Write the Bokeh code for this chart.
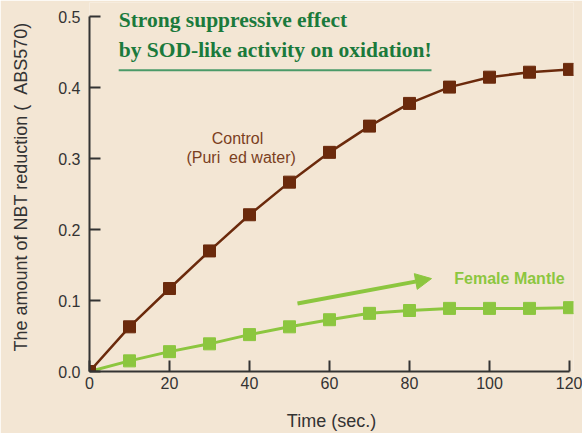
from bokeh.plotting import figure
from bokeh.models import Label, Arrow, NormalHead, FixedTicker, Range1d, CustomJSTickFormatter
from bokeh.embed import file_html
from bokeh.resources import INLINE

time_sec = [0, 10, 20, 30, 40, 50, 60, 70, 80, 90, 100, 110, 120]
control = [0.0, 0.063, 0.117, 0.170, 0.221, 0.267, 0.309, 0.346, 0.378, 0.401, 0.415, 0.422, 0.426]
female_mantle = [0.0, 0.015, 0.028, 0.039, 0.052, 0.063, 0.073, 0.082, 0.086, 0.089, 0.089, 0.089, 0.090]
x_ticks = [0, 20, 40, 60, 80, 100, 120]
y_ticks = [0.0, 0.1, 0.2, 0.3, 0.4, 0.5]

BG = "#f3e6d4"
BROWN = "#6b2a0c"
GREEN = "#8cc63f"
TITLE_GREEN = "#1b7a3c"
AXIS = "#333333"

p = figure(width=582, height=433,
           min_border_left=89, min_border_right=9, min_border_top=2, min_border_bottom=61,
           output_backend="svg", toolbar_location=None,
           x_range=Range1d(0, 121), y_range=Range1d(0, 0.5203))
p.background_fill_color = BG
p.border_fill_color = BG
p.outline_line_color = None
p.grid.visible = False

for ax in (p.xaxis[0], p.yaxis[0]):
    ax.axis_line_color = AXIS
    ax.axis_line_width = 2
    ax.major_tick_line_color = AXIS
    ax.major_tick_line_width = 2
    ax.major_tick_in = 11
    ax.major_tick_out = 0
    ax.minor_tick_line_color = None
    ax.major_label_text_font = "Liberation Sans"
    ax.major_label_text_font_size = "16px"
    ax.major_label_text_color = AXIS
    ax.axis_label_text_font = "Liberation Sans"
    ax.axis_label_text_font_size = "18px"
    ax.axis_label_text_font_style = "normal"
    ax.axis_label_text_color = AXIS

p.xaxis[0].ticker = FixedTicker(ticks=x_ticks)
p.yaxis[0].ticker = FixedTicker(ticks=y_ticks)
p.xaxis[0].bounds = (0, 120)
p.yaxis[0].bounds = (0, 0.5)
p.yaxis[0].formatter = CustomJSTickFormatter(code="return tick.toFixed(1);")
p.xaxis[0].major_label_standoff = 5
p.yaxis[0].major_label_standoff = 9
p.xaxis[0].axis_label = "Time (sec.)"
p.yaxis[0].axis_label = "The amount of NBT reduction ( \u00a0ABS570)"
p.xaxis[0].axis_label_standoff = 19
p.yaxis[0].axis_label_standoff = 24

p.line(time_sec, female_mantle, line_color=GREEN, line_width=3)
p.scatter(time_sec, female_mantle, marker="square", size=12, fill_color=GREEN, line_color=GREEN)
p.line(time_sec, control, line_color=BROWN, line_width=2.5)
p.scatter(time_sec, control, marker="square", size=12, fill_color=BROWN, line_color=BROWN)

for txt, yy in [("Strong suppressive effect", 0.496), ("by SOD-like activity on oxidation!", 0.453)]:
    p.add_layout(Label(x=7.3, y=yy, text=txt, text_font="Liberation Serif", text_font_style="bold",
                       text_font_size="21.5px", text_color=TITLE_GREEN, text_baseline="middle", text_align="left"))
p.segment(x0=[7.3], y0=[0.4246], x1=[85.5], y1=[0.4246], line_color="#4a9a68", line_width=2)

p.add_layout(Label(x=37, y=0.329, text="Control", text_font="Liberation Sans", text_font_size="16px",
                   text_color="#7b3f1e", text_align="center", text_baseline="middle"))
p.add_layout(Label(x=37.9, y=0.302, text="(Puri \u00a0ed water)", text_font="Liberation Sans", text_font_size="16px",
                   text_color="#7b3f1e", text_align="center", text_baseline="middle"))
p.add_layout(Label(x=91.2, y=0.1315, text="Female Mantle", text_font="Liberation Sans", text_font_style="bold",
                   text_font_size="16px", text_color=GREEN, text_align="left", text_baseline="middle"))
p.add_layout(Arrow(x_start=52, y_start=0.096, x_end=85.5, y_end=0.131, line_color=GREEN, line_width=4,
                   end=NormalHead(size=16, fill_color=GREEN, line_color=GREEN)))

html = file_html(p, INLINE)
html = html.replace("<body>", '<body style="background:%s;">' % BG, 1)
open("out.html", "w").write(html)
